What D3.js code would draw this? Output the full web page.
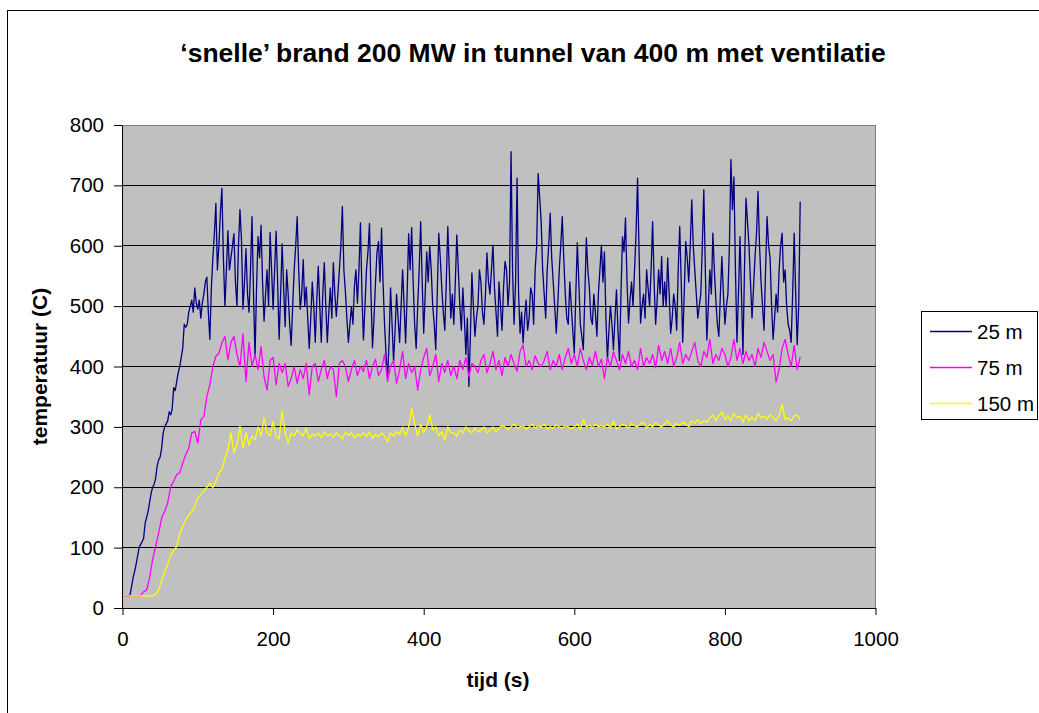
<!DOCTYPE html>
<html>
<head>
<meta charset="utf-8">
<script src="https://cdn.jsdelivr.net/npm/d3@7"></script>
<style>
body { margin: 0; background: #fff; }
text { font-family: "Liberation Sans", Arial, sans-serif; fill: #000; }
</style>
</head>
<body>
<div id="graph"></div>
<script>
// sample times (s): 25 m every 2 s, the other two every 4 s, 0 .. 900
var stap25 = 2, stap = 4;
var tijd25 = d3.range(0, 901, stap25);
var tijd = d3.range(0, 901, stap);

// temperatuur (C) at 25 m
var temp25 = [
  20,20,20,20,20,22,35,50,60,72,85,100,105,110,115,140,150,160,175,190,
  200,205,215,235,245,250,265,290,300,305,310,325,320,330,365,360,375,390,400,415,
  430,470,465,470,490,500,510,490,530,505,495,510,480,505,520,540,548,490,445,530,
  580,620,670,560,600,655,695,580,500,560,625,560,580,600,620,540,500,600,660,610,
  495,540,595,520,490,560,648,520,415,530,615,580,634,540,475,520,560,500,622,560,
  495,560,624,540,445,520,603,530,466,560,520,470,435,500,560,600,648,560,495,520,
  577,500,532,480,430,480,540,500,440,510,566,500,440,520,572,500,440,490,530,480,
  572,520,483,520,560,600,665,560,524,480,440,470,499,470,532,560,505,560,638,520,
  444,500,560,590,637,520,431,480,540,590,607,540,629,540,470,420,380,440,530,470,
  408,460,520,480,440,500,560,500,439,520,620,560,630,540,470,430,500,560,640,540,
  455,520,590,540,600,560,500,470,428,520,621,580,530,490,460,540,632,560,480,520,
  470,540,618,560,500,460,530,480,420,480,367,450,555,500,450,480,500,560,540,490,
  470,520,588,540,520,560,601,530,490,450,540,500,460,530,574,560,500,540,756,560,
  470,540,712,520,455,490,439,480,510,460,480,530,520,470,560,600,720,680,640,560,
  520,480,560,600,654,580,540,500,455,500,560,600,648,580,520,480,470,540,500,460,
  422,520,605,540,470,450,428,520,613,560,530,480,470,520,490,450,520,560,601,540,
  590,480,411,460,500,470,428,480,527,460,410,520,615,590,646,540,472,510,540,500,
  560,620,712,590,472,500,520,480,560,530,500,560,640,540,470,510,560,520,582,500,
  540,500,580,520,455,480,520,500,460,560,632,540,440,520,607,580,540,600,676,600,
  560,520,480,500,520,600,693,560,444,500,560,520,621,560,510,470,450,520,582,520,
  470,500,520,600,743,660,714,560,440,520,615,520,420,560,679,640,600,540,480,530,
  582,620,690,600,540,500,460,560,648,600,580,500,445,480,520,490,560,600,621,540,
  560,500,470,460,440,520,621,520,436,500,673
];

// temperatuur (C) at 75 m
var temp75 = [
  20,20,20,20,20,20,20,27,30,50,
  80,102,124,149,160,174,201,210,221,224,
  240,254,265,290,292,273,312,317,350,370,
  400,417,422,439,450,411,440,450,420,400,
  454,375,440,400,420,395,433,383,361,410,
  415,370,405,390,405,367,380,400,372,395,
  380,405,353,400,405,375,395,410,380,400,
  395,350,405,410,400,375,395,410,385,400,
  392,410,380,400,412,385,395,420,375,400,
  410,372,395,425,380,405,390,400,361,395,
  415,430,385,400,420,375,405,390,410,385,
  400,380,410,395,415,383,405,400,390,410,
  420,390,405,425,395,410,385,415,400,420,
  405,392,425,436,400,410,395,418,405,400,
  410,425,395,410,400,420,395,415,430,405,
  420,400,430,410,395,415,402,425,400,412,
  380,415,400,425,410,395,420,405,425,400,
  410,395,430,400,415,405,420,398,435,410,
  425,405,430,400,415,440,405,420,410,425,
  440,410,400,425,415,445,405,420,410,430,
  420,400,415,445,410,430,405,425,410,420,
  400,430,415,440,425,410,420,374,395,430,
  445,420,400,435,395,416
];

// temperatuur (C) at 150 m
var temp150 = [
  20,20,20,20,20,20,20,20,20,20,
  20,22,30,45,60,72,88,95,102,124,
  135,146,154,160,168,182,188,193,200,207,
  199,210,224,229,248,262,290,257,270,301,
  265,290,270,285,279,300,285,315,290,285,
  309,285,280,326,290,273,290,285,295,290,
  285,298,280,288,285,290,282,292,285,288,
  283,290,285,280,292,286,290,282,288,285,
  290,284,292,280,288,283,290,285,275,290,
  285,292,288,300,285,300,331,305,285,305,
  290,300,320,295,300,285,292,278,300,290,
  290,285,295,290,300,294,290,298,292,295,
  300,290,294,300,292,298,302,300,295,300,
  305,298,300,302,296,300,305,298,302,300,
  305,296,300,298,303,300,298,302,300,297,
  300,305,296,312,300,303,298,305,300,302,
  300,305,298,310,296,300,305,302,298,306,
  302,300,305,308,298,304,300,307,303,300,
  305,310,303,300,306,302,308,305,300,310,
  306,312,305,310,308,315,320,310,318,325,
  312,318,310,322,315,318,308,320,310,316,
  310,322,315,318,312,320,316,310,318,337,
  312,315,310,318,320,312
];

var xTicks = [0, 200, 400, 600, 800, 1000];
var yTicks = [0, 100, 200, 300, 400, 500, 600, 700, 800];
var seriesNames = ["25 m", "75 m", "150 m"];
var seriesColors = ["#000080", "#FF00FF", "#FFFF00"];
var seriesValues = [temp25, temp75, temp150];
var seriesTimes = [tijd25, tijd, tijd];

var svgWidth = 1039, svgHeight = 713;
var plot = {left: 122.5, right: 875.5, top: 125, bottom: 608};

var xScale = d3.scaleLinear().domain([0, 1000]).range([plot.left, plot.right]);
var yScale = d3.scaleLinear().domain([0, 800]).range([plot.bottom, plot.top]);

var svg = d3.select("#graph").append("svg")
  .attr("width", svgWidth)
  .attr("height", svgHeight);

// outer chart border (runs off the right / bottom of the picture)
svg.append("rect")
  .attr("x", 7.5).attr("y", 10.5)
  .attr("width", 1100).attr("height", 800)
  .style("fill", "#fff").style("stroke", "#000");

// title
svg.append("text")
  .attr("x", 533).attr("y", 53).attr("dy", "0.35em")
  .attr("text-anchor", "middle")
  .style("font-size", "26.5px").style("font-weight", "bold")
  .text("\u2018snelle\u2019 brand 200 MW in tunnel van 400 m met ventilatie");

// plot area
svg.append("rect")
  .attr("x", plot.left).attr("y", plot.top + 0.5)
  .attr("width", plot.right - plot.left).attr("height", plot.bottom - plot.top)
  .style("fill", "#C0C0C0").style("stroke", "#808080");

// horizontal gridlines
svg.append("g").selectAll("line")
  .data(yTicks.filter(function(d) { return d > 0 && d < 800; }))
  .enter().append("line")
  .attr("x1", plot.left).attr("x2", plot.right)
  .attr("y1", function(d) { return Math.floor(yScale(d)) + 0.5; })
  .attr("y2", function(d) { return Math.floor(yScale(d)) + 0.5; })
  .style("stroke", "#000").style("stroke-width", 1);

// series lines
var lineGen = d3.line()
  .x(function(d) { return xScale(d[0]); })
  .y(function(d) { return yScale(d[1]); });

seriesValues.forEach(function(vals, k) {
  var pts = seriesTimes[k].map(function(t, i) { return [t, vals[i]]; })
    .filter(function(p) { return p[1] != null; });
  svg.append("path")
    .attr("d", lineGen(pts))
    .style("fill", "none")
    .style("stroke", seriesColors[k])
    .style("stroke-width", 1.3)
    .style("stroke-linejoin", "round");
});

// axes
var yAxis = svg.append("g")
  .attr("transform", "translate(" + (plot.left - 0.5) + ",0)")
  .call(d3.axisLeft(yScale).tickValues(yTicks).tickSize(8).tickSizeOuter(0).tickPadding(10));
var xAxis = svg.append("g")
  .attr("transform", "translate(0," + plot.bottom + ")")
  .call(d3.axisBottom(xScale).tickValues(xTicks).tickFormat(d3.format("d"))
    .tickSize(7).tickSizeOuter(0).tickPadding(16));

[xAxis, yAxis].forEach(function(ax) {
  ax.attr("font-family", null).attr("font-size", null);
  ax.selectAll("text").style("font-size", "20.5px");
  ax.selectAll("line, path").style("stroke", "#000");
});

// axis titles
svg.append("text")
  .attr("x", 498).attr("y", 680).attr("dy", "0.35em")
  .attr("text-anchor", "middle")
  .style("font-size", "21px").style("font-weight", "bold")
  .text("tijd (s)");

svg.append("text")
  .attr("transform", "translate(40," + ((plot.top + plot.bottom) / 2) + ") rotate(-90)")
  .attr("dy", "0.35em")
  .attr("text-anchor", "middle")
  .style("font-size", "21px").style("font-weight", "bold")
  .text("temperatuur (C)");

// legend
var legend = svg.append("g");
legend.append("rect")
  .attr("x", 921.5).attr("y", 311.5)
  .attr("width", 116).attr("height", 108)
  .style("fill", "#fff").style("stroke", "#000");

seriesNames.forEach(function(name, k) {
  var ly = 331.5 + k * 36;
  legend.append("line")
    .attr("x1", 930).attr("x2", 972)
    .attr("y1", ly).attr("y2", ly)
    .style("stroke", seriesColors[k]).style("stroke-width", 1.3);
  legend.append("text")
    .attr("x", 977).attr("y", ly).attr("dy", "0.35em")
    .style("font-size", "20.5px")
    .text(name);
});
</script>
</body>
</html>
